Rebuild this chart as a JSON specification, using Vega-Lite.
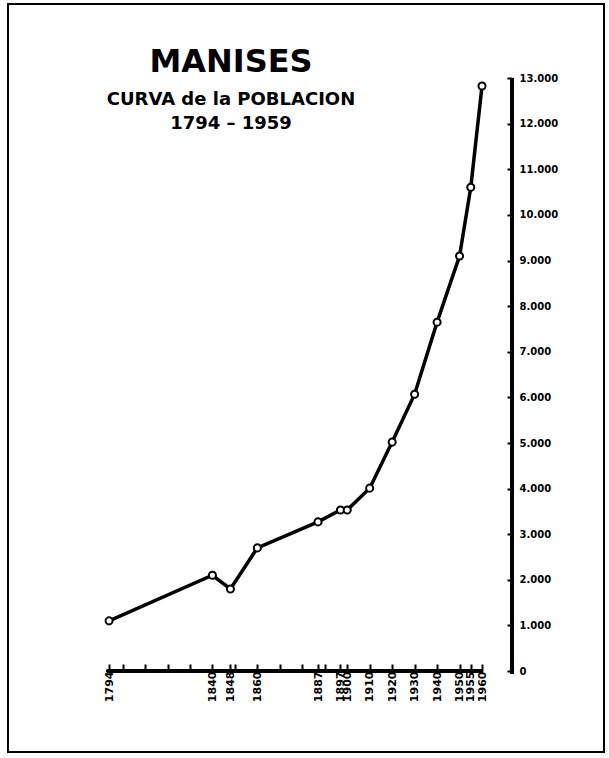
{
  "$schema": "https://vega.github.io/schema/vega-lite/v6.json",
  "width": 596,
  "height": 748,
  "autosize": "none",
  "padding": {"left": 8, "top": 4, "right": 5, "bottom": 6},
  "background": "white",
  "config": {
    "view": {"stroke": "black", "strokeWidth": 2},
    "font": "DejaVu Sans",
    "axis": {"labelOverlap": false, "labelFlush": false, "labelBound": false}
  },
  "title": {
    "text": "MANISES",
    "subtitle": ["CURVA de la POBLACION", "1794 – 1959"],
    "anchor": "start",
    "align": "center",
    "frame": "group",
    "dx": 223,
    "offset": -130,
    "font": "DejaVu Sans",
    "fontSize": 32,
    "fontWeight": "bold",
    "color": "black",
    "subtitleFont": "DejaVu Sans",
    "subtitleFontSize": 18,
    "subtitleFontWeight": "bold",
    "subtitleColor": "black",
    "subtitleLineHeight": 24,
    "subtitlePadding": 12
  },
  "data": {
    "values": [
      {"year": 1794, "pop": 1100},
      {"year": 1840, "pop": 2100},
      {"year": 1848, "pop": 1800},
      {"year": 1860, "pop": 2700},
      {"year": 1887, "pop": 3270},
      {"year": 1897, "pop": 3530},
      {"year": 1900, "pop": 3530},
      {"year": 1910, "pop": 4010},
      {"year": 1920, "pop": 5020},
      {"year": 1930, "pop": 6070},
      {"year": 1940, "pop": 7650},
      {"year": 1950, "pop": 9100},
      {"year": 1955, "pop": 10610},
      {"year": 1960, "pop": 12830}
    ]
  },
  "layer": [
    {
      "mark": {
        "type": "line",
        "color": "black",
        "strokeWidth": 3.5,
        "point": {"filled": true, "fill": "white", "stroke": "black", "strokeWidth": 2, "size": 50, "opacity": 1}
      },
      "encoding": {
        "x": {
          "field": "year",
          "type": "quantitative",
          "scale": {"domain": [1749, 2014.3], "nice": false, "zero": false},
          "axis": {
            "orient": "bottom",
            "offset": -81,
            "domain": false,
            "grid": false,
            "title": null,
            "tickCount": 60,
            "values": [1794, 1800, 1810, 1820, 1830, 1840, 1848, 1850, 1860, 1870, 1880, 1887, 1890, 1897, 1900, 1910, 1920, 1930, 1940, 1950, 1955, 1960],
            "tickSize": -7,
            "tickWidth": 2,
            "tickColor": "black",
            "labelAngle": 270,
            "labelFont": "DejaVu Sans",
            "labelFontWeight": "bold",
            "labelFontSize": 11,
            "labelColor": "black",
            "labelPadding": 7,
            "labelOverlap": false,
            "labelExpr": "indexof([1794,1840,1848,1860,1887,1897,1900,1910,1920,1930,1940,1950,1955,1960], datum.value) >= 0 ? format(datum.value, 'd') : ''"
          }
        },
        "y": {
          "field": "pop",
          "type": "quantitative",
          "scale": {"domain": [-1776, 14627], "nice": false, "zero": false},
          "axis": {
            "orient": "right",
            "offset": -92,
            "domain": false,
            "grid": false,
            "title": null,
            "tickCount": 60,
            "values": [0, 1000, 2000, 3000, 4000, 5000, 6000, 7000, 8000, 9000, 10000, 11000, 12000, 13000],
            "tickSize": -5,
            "tickWidth": 2,
            "tickColor": "black",
            "labelFont": "DejaVu Sans",
            "labelFontWeight": "bold",
            "labelFontSize": 10,
            "labelColor": "black",
            "labelPadding": 12,
            "labelAlign": "left",
            "labelOverlap": false,
            "labelExpr": "replace(format(datum.value, ','), ',', '.')"
          }
        }
      }
    },
    {
      "mark": {"type": "rule", "strokeWidth": 2.5, "color": "black"},
      "encoding": {"x": {"datum": 1793}, "x2": {"datum": 1960.3}, "y": {"datum": 0}}
    },
    {
      "mark": {"type": "rule", "strokeWidth": 3, "color": "black"},
      "encoding": {"x": {"datum": 1973.3}, "y": {"datum": -60}, "y2": {"datum": 13000}}
    }
  ]
}
